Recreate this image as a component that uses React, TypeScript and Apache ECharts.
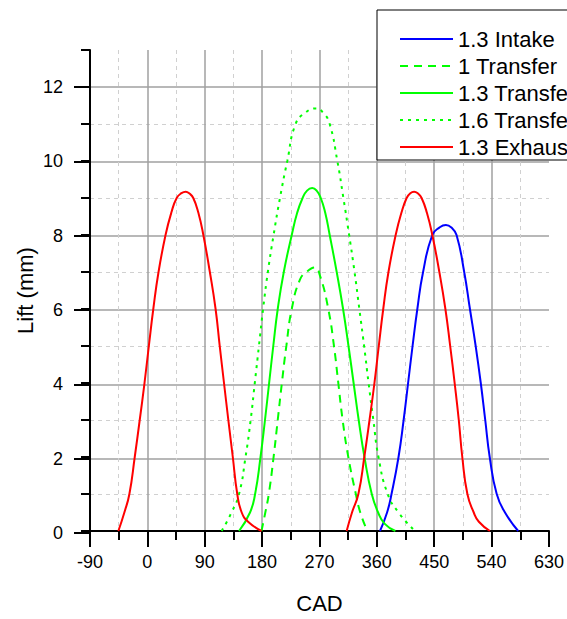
import React, { useEffect, useRef } from "react";
import * as echarts from "echarts";

// X axis (crank angle, degrees)
const xMin = -90;
const xMax = 630;
const xStep = 90;
// Y axis (lift, mm)
const yMax = 13;
const yLabelMax = 12;
const yStep = 2;

const seriesNames = ["1.3 Intake", "1 Transfer", "1.3 Transfer", "1.6 Transfer", "1.3 Exhaust"];

const intakeCad = [364.9, 376, 383, 394, 402, 409, 416, 423.5, 432.5, 447, 458, 468.3, 477, 485, 497, 506, 515, 523, 530, 537, 548, 561, 581.7];
const intakeLift = [0, 0.5, 1, 2, 3, 4, 5, 6, 7, 8, 8.2, 8.27, 8.2, 8, 7, 6, 5, 4, 3, 2, 1, 0.5, 0];

const transfer1Cad = [179, 185, 190.5, 198, 204.5, 211, 218, 226.5, 239.5, 251, 263, 270.8, 283.8, 292.7, 299.5, 306.3, 315.2, 327, 334, 345];
const transfer1Lift = [0, 0.5, 1, 2, 3, 4, 5, 6, 6.8, 7.02, 7.12, 6.9, 6, 5, 4, 3, 2, 1, 0.5, 0];

const transfer13Cad = [143.8, 161, 169, 177.5, 184.5, 191, 197.5, 204.5, 214, 226.5, 235, 243.5, 250.5, 258.5, 265.5, 272, 279, 286, 297, 307, 315.5, 323.5, 331.5, 340.5, 352, 362, 372, 389];
const transfer13Lift = [0, 0.5, 1, 2, 3, 4, 5, 6, 7, 8, 8.6, 9, 9.2, 9.27, 9.2, 9, 8.6, 8, 7, 6, 5, 4, 3, 2, 1, 0.5, 0.2, 0];

const transfer16Cad = [116.6, 132, 143.8, 154, 162, 168.5, 175, 181.5, 189, 198, 208, 219.5, 232.5, 248, 264.5, 276, 286, 298, 307.5, 316.5, 325, 332.5, 340, 347, 354.5, 362.5, 377, 394, 419.7];
const transfer16Lift = [0, 0.5, 1, 2, 3, 4, 5, 6, 7, 8, 9, 10, 11, 11.31, 11.42, 11.3, 11, 10, 9, 8, 7, 6, 5, 4, 3, 2, 1, 0.5, 0];

const exhaustACad = [-45.5, -36.1, -28.2, -19.8, -12, -4.5, 2.3, 9.3, 17.5, 28.5, 37.5, 46, 53.5, 60.2, 66, 72, 80, 87.8, 98, 107, 113.5, 120.2, 127, 134, 141, 148, 158, 179];
const exhaustALift = [0, 0.5, 1, 2, 3, 4, 5, 6, 7, 8, 8.6, 9, 9.13, 9.17, 9.12, 9, 8.6, 8, 7, 6, 5, 4, 3, 2, 1, 0.5, 0.25, 0];

const exhaustBCad = [312.6, 321, 331, 340.3, 348.5, 356.2, 363, 370, 378.2, 389.5, 398.5, 406.7, 412.5, 418.4, 424.5, 430.2, 438.5, 447, 458, 467.5, 475, 482, 488.5, 494, 502, 512, 520, 537.3];
const exhaustBLift = [0, 0.5, 1, 2, 3, 4, 5, 6, 7, 8, 8.6, 9, 9.13, 9.17, 9.12, 9, 8.6, 8, 7, 6, 5, 4, 3, 2, 1, 0.5, 0.25, 0];

const FONT = "'Liberation Sans', Arial, sans-serif";
const MAJOR = "#a0a0a0";
const MINOR = "#d0d0d0";

function zip(xs: number[], ys: number[]) {
  return xs.map((x, i) => [x, ys[i]]);
}

function lineSeries(name: string, xs: number[], ys: number[], color: string, type: any) {
  return {
    name,
    type: "line",
    xAxisIndex: 0,
    yAxisIndex: 0,
    data: zip(xs, ys),
    showSymbol: false,
    symbol: "none",
    smooth: 0.5,
    lineStyle: { color, width: 2, type },
    itemStyle: { color },
  };
}

export default function App() {
  const ref = useRef<HTMLDivElement>(null);
  useEffect(() => {
    const chart = echarts.init(ref.current!, null, { renderer: "svg" });
    const xCount = (xMax - xMin) / xStep + 1;
    const xSplitColors = Array.from({ length: xCount }, (_, i) => (i === 0 || i === xCount - 1 ? "transparent" : MAJOR));
    const yMinorColors = Array.from({ length: yMax + 1 }, (_, i) => (i % 2 === 1 && i !== yMax ? MINOR : "transparent"));
    const yMajorColors = Array.from({ length: yLabelMax / yStep + 1 }, (_, i) => (i === 0 ? "transparent" : MAJOR));
    const grid0 = { left: 90, right: 18, top: 50, bottom: 86 };
    const unit = (619 - 50 - 86) / yMax;
    chart.setOption({
      animation: false,
      backgroundColor: "#fff",
      textStyle: { fontFamily: FONT },
      grid: [grid0, { left: 90, right: 18, top: 50 + unit * (yMax - yLabelMax), bottom: 86 }],
      xAxis: [
        {
          type: "value",
          gridIndex: 0,
          min: xMin,
          max: xMax,
          interval: xStep,
          name: "CAD",
          nameLocation: "middle",
          nameGap: 61,
          nameTextStyle: { fontSize: 22, color: "#000", fontFamily: FONT },
          axisLine: { onZero: false, lineStyle: { color: "#000", width: 2 } },
          axisTick: { length: 16, lineStyle: { color: "#000", width: 2 } },
          minorTick: { show: true, splitNumber: 2, length: 9, lineStyle: { color: "#000", width: 2 } },
          axisLabel: { fontSize: 18, color: "#000", margin: 22, fontFamily: FONT },
          splitLine: { show: true, lineStyle: { color: xSplitColors, width: 1.5 } },
          minorSplitLine: { show: true, lineStyle: { color: MINOR, width: 1, type: [4, 4] } },
        },
        { type: "value", gridIndex: 1, min: xMin, max: xMax, show: false },
      ],
      yAxis: [
        {
          type: "value",
          gridIndex: 0,
          min: 0,
          max: yMax,
          interval: 1,
          name: "Lift (mm)",
          nameLocation: "middle",
          nameGap: 54,
          nameTextStyle: { fontSize: 22, color: "#000", fontFamily: FONT },
          axisLine: { show: true, onZero: false, lineStyle: { color: "#000", width: 2 } },
          axisTick: { show: true, length: 9, lineStyle: { color: "#000", width: 2 } },
          axisLabel: { show: false },
          splitLine: { show: true, lineStyle: { color: yMinorColors, width: 1, type: [4, 4] } },
        },
        {
          type: "value",
          gridIndex: 1,
          min: 0,
          max: yLabelMax,
          interval: yStep,
          axisLine: { show: false, onZero: false },
          axisTick: { show: true, length: 16, lineStyle: { color: "#000", width: 2 } },
          axisLabel: { fontSize: 18, color: "#000", margin: 27, fontFamily: FONT },
          splitLine: { show: true, lineStyle: { color: yMajorColors, width: 1.5 } },
        },
      ],
      legend: {
        data: seriesNames,
        orient: "vertical",
        left: 377,
        top: 10,
        padding: [18, 12, 2, 22],
        itemGap: 5,
        itemWidth: 53,
        itemHeight: 14,
        itemStyle: { opacity: 0 },
        backgroundColor: "#fff",
        borderColor: "#000",
        borderWidth: 1,
        borderRadius: 0,
        textStyle: { fontSize: 22, color: "#000", fontFamily: FONT },
      },
      series: [
        lineSeries(seriesNames[0], intakeCad, intakeLift, "#0000ff", "solid"),
        lineSeries(seriesNames[1], transfer1Cad, transfer1Lift, "#00ff00", [8, 6]),
        lineSeries(seriesNames[2], transfer13Cad, transfer13Lift, "#00ff00", "solid"),
        lineSeries(seriesNames[3], transfer16Cad, transfer16Lift, "#00ff00", [3, 5]),
        lineSeries(seriesNames[4], exhaustACad, exhaustALift, "#ff0000", "solid"),
        lineSeries(seriesNames[4], exhaustBCad, exhaustBLift, "#ff0000", "solid"),
      ],
    });
    return () => chart.dispose();
  }, []);
  return <div ref={ref} style={{ position: "fixed", left: 0, top: 0, width: 567, height: 619 }} />;
}
